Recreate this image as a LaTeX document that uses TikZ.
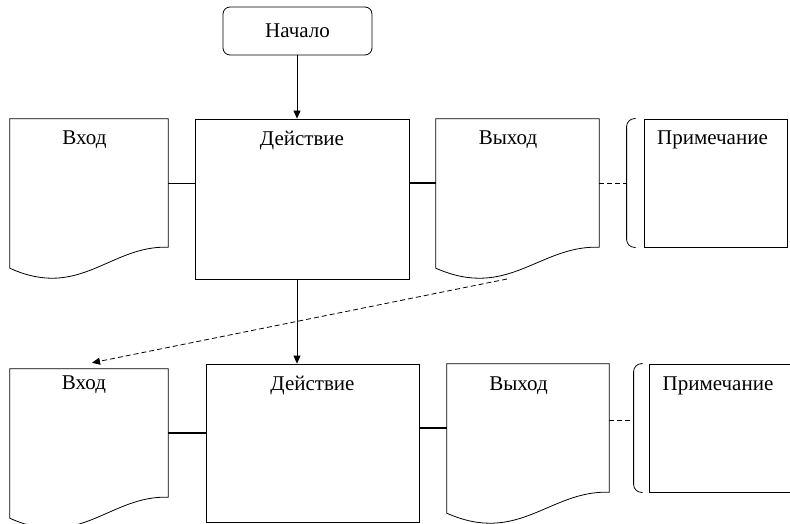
\documentclass[tikz,border=0pt]{standalone}
\usepackage{fontspec}
\setmainfont{Liberation Serif}
\usetikzlibrary{arrows.meta,calc}
\tikzset{
  ln/.style={line width=0.8pt},
  boxs/.style={draw, line width=0.8pt, rectangle, inner sep=0pt},
  docn/.style={rectangle, inner sep=0pt},
  lbl/.style={font=\fontsize{21}{24}\selectfont, inner sep=0pt, anchor=base},
  dsh/.style={dash pattern=on 5pt off 3pt},
  arr/.style={-{Triangle[length=8pt,width=7pt]}},
}
\newcommand\docoutline[1]{%
  \draw[ln] (#1.north west) -- (#1.north east) -- (#1.south east)
    .. controls ($(#1.south west)!0.633!(#1.south east)+(0,2pt)$) and ($(#1.south west)!0.443!(#1.south east)+(0,-53pt)$) .. ($(#1.south west)+(0,-21pt)$)
    -- cycle;}
\newcommand\bracketfor[2]{%
  \draw[ln,rounded corners=8pt] ([xshift=-#2+9pt]#1.north west) -- ([xshift=-#2]#1.north west) -- ([xshift=-#2]#1.south west) -- ([xshift=-#2+9pt]#1.south west);}
\begin{document}
\begin{tikzpicture}[x=1pt,y=1pt]
\useasboundingbox (0,0) rectangle (790,-524);
\clip (0,0) rectangle (790,-524);
% start
\node[boxs, rounded corners=7pt, minimum width=149pt, minimum height=48pt, font=\fontsize{21}{24}\selectfont] (start) at (297.5,-31) {Начало};
% row 1
\node[boxs, minimum width=214pt, minimum height=160pt,
  label={[lbl, yshift=-27pt]north:Действие}] (act1) at (302,-199) {};
\node[docn, minimum width=158pt, minimum height=128pt,
  label={[lbl, xshift=-4.5pt, yshift=-26pt]north:Вход}] (in1) at (89,-183) {};
\node[docn, minimum width=163pt, minimum height=128pt,
  label={[lbl, xshift=-9.5pt, yshift=-26pt]north:Выход}] (out1) at (517.5,-183) {};
\node[boxs, minimum width=143pt, minimum height=128pt,
  label={[lbl, xshift=-3pt, yshift=-26pt]north:Примечание}] (note1) at (715.5,-183) {};
\docoutline{in1}
\docoutline{out1}
\bracketfor{note1}{17pt}
\coordinate (br1) at ([xshift=-17pt]note1.west);
% row 2
\node[boxs, minimum width=213pt, minimum height=158pt,
  label={[lbl, yshift=-27pt]north:Действие}] (act2) at (312.5,-443) {};
\node[docn, minimum width=158pt, minimum height=128pt,
  label={[lbl, xshift=-5pt, yshift=-21pt]north:Вход}] (in2) at (89,-433) {};
\node[docn, minimum width=162pt, minimum height=128pt,
  label={[lbl, xshift=-9.5pt, yshift=-27pt]north:Выход}] (out2) at (528,-428) {};
\node[boxs, minimum width=151pt, minimum height=128pt,
  label={[lbl, xshift=-6.5pt, yshift=-27pt]north:Примечание}] (note2) at (724.5,-428) {};
\docoutline{in2}
\docoutline{out2}
\bracketfor{note2}{15pt}
\coordinate (br2) at ([xshift=-15pt, yshift=8pt]note2.west);
% connectors row 1
\draw[ln, arr] (start.south -| 297,0) -- (act1.north -| 297,0);
\draw[ln] (in1.east) -- (in1.east -| act1.west);
\draw[line width=1.3pt] (act1.east |- out1.west) -- (out1.west);
\draw[ln, dsh] (out1.east) -- (br1);
% connectors between rows
\draw[ln, arr] (act1.south -| 297,0) -- (act2.north -| 297,0);
\coordinate (ds) at (507,-279);
\draw[ln, dsh, arr] (ds) -- ([xshift=3pt, yshift=6pt]in2.north);
% connectors row 2
\draw[line width=1.6pt] (in2.east) -- (in2.east -| act2.west);
\draw[line width=1.2pt] (act2.east |- out2.west) -- (out2.west);
\draw[ln, dsh] ([yshift=8pt]out2.east) -- (br2);
\end{tikzpicture}
\end{document}
